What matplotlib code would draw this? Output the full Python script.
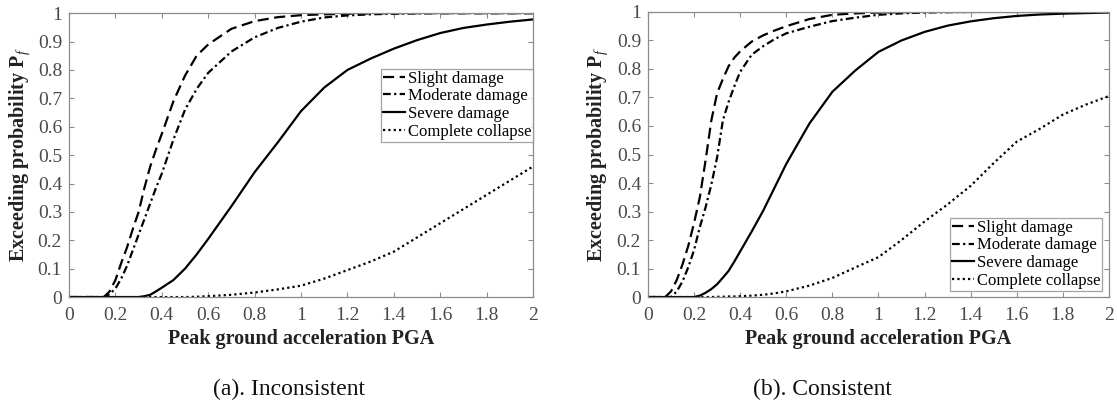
import matplotlib
matplotlib.use("Agg")
import matplotlib.pyplot as plt
from matplotlib.ticker import FormatStrFormatter, MultipleLocator

plt.rcParams["font.family"] = ["Liberation Serif", "DejaVu Serif"]
plt.rcParams["mathtext.fontset"] = "custom"
plt.rcParams["mathtext.rm"] = "Liberation Serif"
plt.rcParams["mathtext.it"] = "Liberation Serif:italic"
plt.rcParams["mathtext.bf"] = "Liberation Serif:bold"

# peak ground acceleration sample points
pga = [0, 0.05, 0.075, 0.1, 0.125, 0.15, 0.175, 0.2, 0.225, 0.25, 0.275, 0.3,
       0.325, 0.35, 0.375, 0.4, 0.45, 0.5, 0.55, 0.6, 0.7, 0.8, 0.9, 1.0,
       1.1, 1.2, 1.3, 1.4, 1.5, 1.6, 1.7, 1.8, 1.9, 2.0]

# (a) inconsistent
slight_a = [0, 0, 0, 0, 0, 0, 0.02, 0.06, 0.12, 0.175, 0.24, 0.30,
            0.385, 0.46, 0.52, 0.575, 0.69, 0.78, 0.85, 0.89, 0.945, 0.972, 0.986, 0.993,
            0.996, 0.998, 0.999, 1, 1, 1, 1, 1, 1, 1]
moderate_a = [0, 0, 0, 0, 0, 0, 0.01, 0.03, 0.065, 0.11, 0.165, 0.22,
              0.275, 0.33, 0.385, 0.435, 0.555, 0.66, 0.733, 0.79, 0.865, 0.915, 0.948, 0.97,
              0.985, 0.992, 0.996, 0.998, 0.999, 1, 1, 1, 1, 1]
severe_a = [0, 0, 0, 0, 0, 0, 0, 0, 0, 0, 0, 0,
            0.003, 0.008, 0.02, 0.033, 0.06, 0.1, 0.15, 0.205, 0.32, 0.44, 0.545, 0.655,
            0.738, 0.8, 0.84, 0.875, 0.905, 0.93, 0.948, 0.96, 0.97, 0.978]
collapse_a = [0, 0, 0, 0, 0, 0, 0, 0, 0, 0, 0, 0,
              0, 0, 0, 0, 0, 0, 0.001, 0.003, 0.008, 0.016, 0.027, 0.04,
              0.065, 0.095, 0.125, 0.16, 0.21, 0.26, 0.31, 0.36, 0.41, 0.46]

# (b) consistent
slight_b = [0, 0, 0, 0.02, 0.06, 0.115, 0.18, 0.26, 0.35, 0.48, 0.62, 0.715,
            0.765, 0.81, 0.84, 0.862, 0.896, 0.918, 0.935, 0.95, 0.975, 0.99, 0.995, 0.998,
            0.999, 1, 1, 1, 1, 1, 1, 1, 1, 1]
moderate_b = [0, 0, 0, 0, 0.02, 0.055, 0.105, 0.165, 0.245, 0.315, 0.395, 0.49,
              0.62, 0.685, 0.74, 0.79, 0.85, 0.88, 0.905, 0.925, 0.948, 0.968, 0.98, 0.99,
              0.995, 0.998, 0.999, 1, 1, 1, 1, 1, 1, 1]
severe_b = [0, 0, 0, 0, 0, 0, 0, 0, 0.005, 0.015, 0.028, 0.045,
            0.068, 0.092, 0.125, 0.16, 0.23, 0.303, 0.385, 0.467, 0.608, 0.72, 0.795, 0.86,
            0.9, 0.93, 0.952, 0.967, 0.978, 0.986, 0.991, 0.994, 0.996, 0.998]
collapse_b = [0, 0, 0, 0, 0, 0, 0, 0, 0, 0, 0, 0.001,
              0.001, 0.002, 0.002, 0.003, 0.005, 0.008, 0.013, 0.02, 0.04, 0.067, 0.104, 0.14,
              0.2, 0.265, 0.325, 0.39, 0.47, 0.545, 0.59, 0.64, 0.675, 0.705]

labels = ["Slight damage", "Moderate damage", "Severe damage", "Complete collapse"]
captions = ["(a). Inconsistent", "(b). Consistent"]

styles = [
    (0, (5, 2.5)),
    (0, (3.5, 1.5, 1, 1.5)),
    "-",
    (0, (1, 1.4)),
]

fig = plt.figure(figsize=(11.17, 4.12), dpi=100)
ax_a = fig.add_axes([0.0618, 0.279, 0.4154, 0.689])
ax_b = fig.add_axes([0.5801, 0.279, 0.4127, 0.692])

panels = [
    (ax_a, [slight_a, moderate_a, severe_a, collapse_a],
     dict(loc="upper right", bbox_to_anchor=(1.0, 0.805)), -0.079),
    (ax_b, [slight_b, moderate_b, severe_b, collapse_b],
     dict(loc="lower right", bbox_to_anchor=(0.985, 0.022)), -0.082),
]

frame = "#8c8c8c"
for ax, series, legpos, ylab_x in panels:
    for ys, ls, lab in zip(series, styles, labels):
        ax.plot(pga, ys, color="black", linestyle=ls, linewidth=1.6, label=lab)
    ax.set_xlim(0, 2)
    ax.set_ylim(0, 1)
    ax.xaxis.set_major_locator(MultipleLocator(0.2))
    ax.yaxis.set_major_locator(MultipleLocator(0.1))
    ax.xaxis.set_major_formatter(FormatStrFormatter("%g"))
    ax.yaxis.set_major_formatter(FormatStrFormatter("%g"))
    ax.tick_params(direction="in", length=3.5, width=0.8, colors=frame,
                   labelcolor="#4a4a4a", labelsize=14, top=True, right=True, pad=5)
    ax.tick_params(axis="x", pad=7.5)
    for sp in ax.spines.values():
        sp.set_color(frame)
        sp.set_linewidth(0.9)
    ax.set_xlabel("Peak ground acceleration PGA", fontsize=14.5, fontweight="bold",
                  color="#222222")
    ax.xaxis.set_label_coords(0.5, -0.113)
    ax.set_ylabel(r"Exceeding probability P$_{\it f}$", fontsize=14.5, fontweight="bold",
                  color="#222222")
    ax.yaxis.set_label_coords(ylab_x, 0.5)
    leg = ax.legend(fontsize=12, frameon=True, fancybox=False, handlelength=1.3,
                    handletextpad=0.15, borderpad=0.12, labelspacing=0.1,
                    borderaxespad=0, **legpos)
    leg.get_frame().set_edgecolor(frame)
    leg.get_frame().set_linewidth(0.9)

fig.text(0.259, 0.055, captions[0], fontsize=17, ha="center", va="center", color="#111111")
fig.text(0.736, 0.055, captions[1], fontsize=17, ha="center", va="center", color="#111111")

fig.savefig("out.png", dpi=100)
